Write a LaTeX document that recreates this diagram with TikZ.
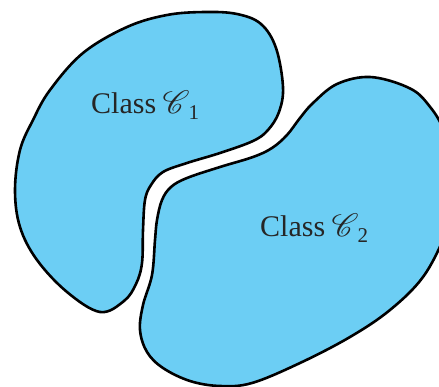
\documentclass[tikz,border=0pt]{standalone}
\usepackage{fontspec}
\setmainfont{Liberation Serif}
\usepackage{mathrsfs}
\usepackage{graphicx}
\definecolor{blobfill}{RGB}{108,206,244}
\newcommand{\bigC}{\kern-1pt\scalebox{1.3}{$\mathscr{C}$}}
\tikzset{
  blob/.style={draw=black, fill=blobfill, line width=2.6pt, line join=round},
  lbl/.style={anchor=base west, inner sep=0pt, font=\fontsize{30}{36}\selectfont, text=black!85}
}
\begin{document}
\begin{tikzpicture}[x=1pt,y=-1pt]
\useasboundingbox (0,0) rectangle (439,387);
\clip (0,0) rectangle (439,387);
% class 1 region
\draw[blob] plot[smooth cycle, tension=0.6] coordinates {
 (205,12) (237,14) (261,24) (276,48) (283,87) (279,112) (268,130) (253,141)
 (220,153) (187,163) (163,172) (151,185) (145,200) (143,230) (142,263)
 (136,284) (124,301) (100,312) (67,292) (37,260) (20,227) (15,190) (20,150)
 (33,120) (50,90) (83,53) (127,27) (167,15)};
% class 2 region
\draw[blob] plot[smooth cycle, tension=0.6] coordinates {
 (370,77) (407,87) (427,103) (445,135) (455,200) (445,235) (423,277) (390,310)
 (350,337) (300,363) (252,383) (220,386) (190,381) (163,368) (147,352)
 (140,330) (143,305) (152,275) (155,240) (157,220) (162,200) (171,187)
 (187,178) (220,167) (253,157) (272,148) (287,135) (300,118) (313,103) (337,84)};
\node[lbl] (c1) at (91,114) {Class \bigC\kern-1pt\textsubscript{1}};
\node[lbl] (c2) at (260,237) {Class \bigC\kern-1pt\textsubscript{2}};
\end{tikzpicture}
\end{document}
